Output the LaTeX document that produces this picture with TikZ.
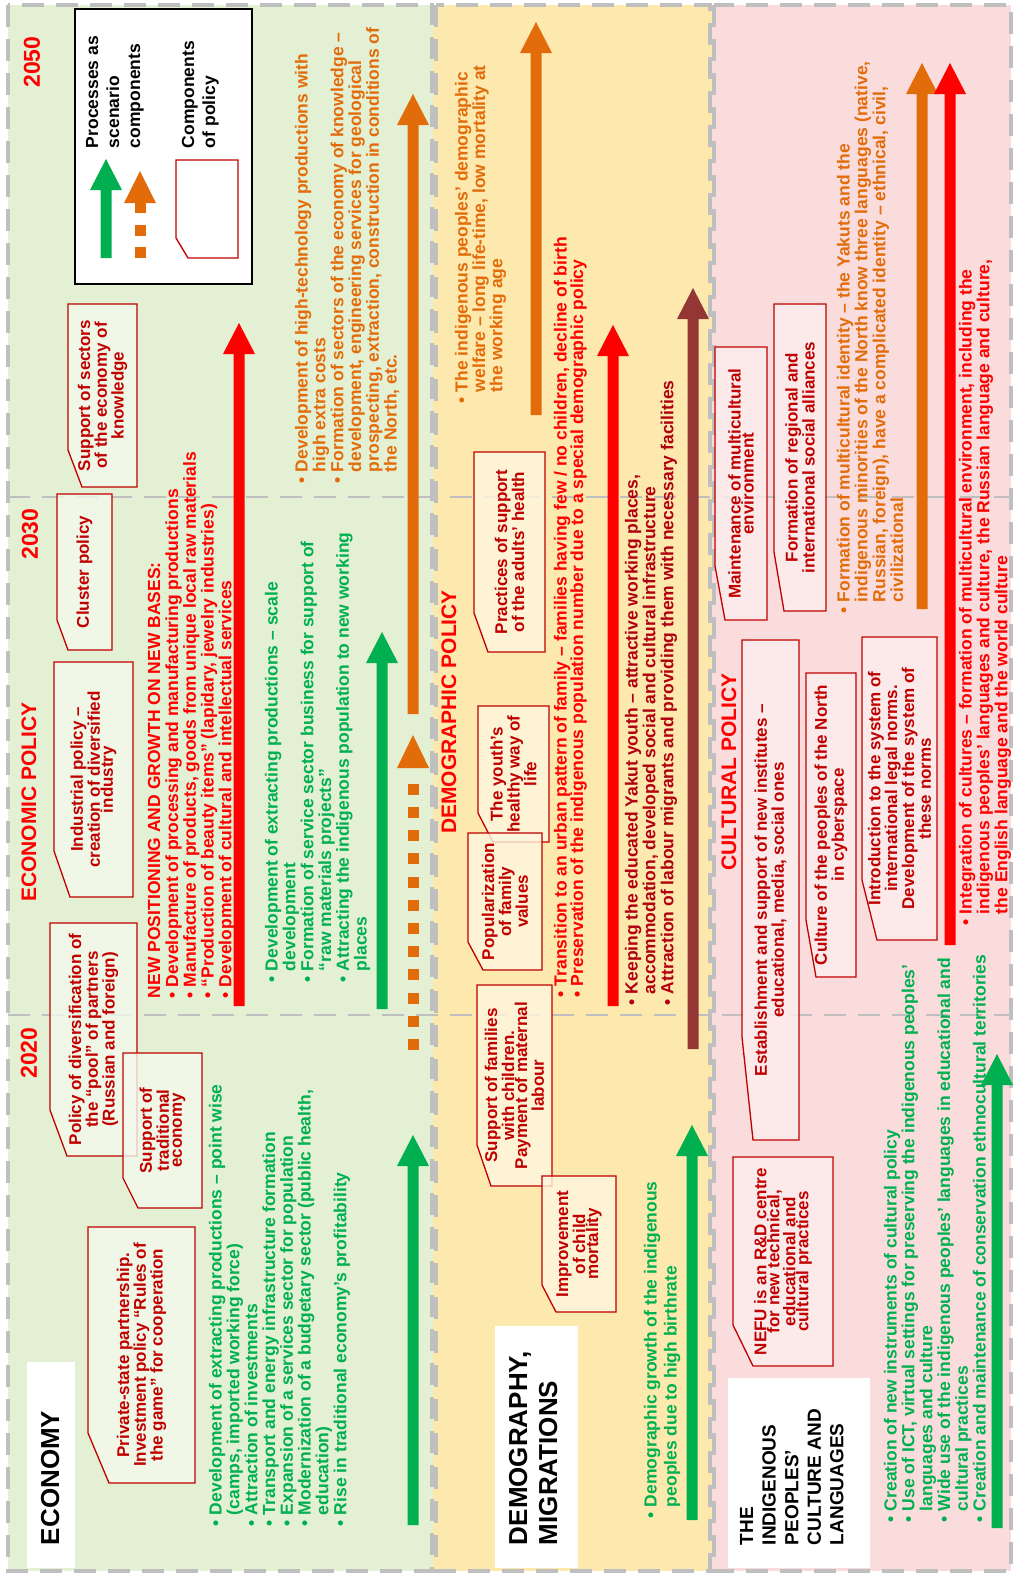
\documentclass[tikz,border=0pt]{standalone}
\usepackage{fontspec}
\setmainfont{Liberation Sans}
\definecolor{cgreen}{HTML}{00B050}
\definecolor{cred}{HTML}{FF0000}
\definecolor{corange}{HTML}{E36C0A}
\definecolor{cdark}{HTML}{C00000}
\definecolor{cmaroon}{HTML}{B00010}
\definecolor{cbrown}{HTML}{943634}
\definecolor{bgecon}{HTML}{E4F0D4}
\definecolor{bgdemo}{HTML}{FDE9AE}
\definecolor{bgcult}{HTML}{FADCDC}
\definecolor{fecon}{HTML}{F3F9EC}
\definecolor{fdemo}{HTML}{FFF6DE}
\definecolor{fcult}{HTML}{FDEEEE}
\definecolor{cgrey}{HTML}{BFBFBF}
\newcommand{\bul}{•\ }
\newcommand{\hi}{\phantom{•\ }}
\newcommand{\procarrow}[4]{\fill[#1] ({#2-5.5},#3) -- ({#2-5.5},{#4+31}) -- ({#2-16},{#4+31}) -- (#2,#4) -- ({#2+16},{#4+31}) -- ({#2+5.5},{#4+31}) -- ({#2+5.5},#3) -- cycle;}
\newcommand{\pbox}[9]{%
  \draw[cdark, line width=1.3pt, fill=#8, fill opacity=0.8] (#2,#3) -- (#4,#3) -- (#4,#5) -- (#7,#5) -- (#2,#6) -- cycle;
  \node[boxtext] (#1) at ({(#2+#4)/2},{(#3+#5)/2}) {#9};}
\tikzset{
  every node/.style={inner sep=0pt, outer sep=0pt},
  rot/.style={rotate=90},
  boxtext/.style={rotate=90, align=center, text=cdark, font=\bfseries\fontsize{17}{13}\selectfont},
  blk/.style={rotate=90, anchor=north west, align=left},
  gridline/.style={cgrey, line width=3.5pt, dash pattern=on 22pt off 12pt},
  hline/.style={cgrey, line width=2.5pt, dash pattern=on 22pt off 12pt},
  bodytext/.style={font=\bfseries\fontsize{17.5}{17.8}\selectfont},
  year/.style={rot, text=cred, font=\bfseries\fontsize{23}{26}\selectfont},
  policyhead/.style={rot, text=cred, font=\bfseries\fontsize{21}{24}\selectfont},
}
\begin{document}
\begin{tikzpicture}[x=1pt,y=-1pt]
\useasboundingbox (0,0) rectangle (1017,1577);
% backgrounds
\fill[bgecon] (8,5) rectangle (433,1571);
\fill[bgdemo] (433,5) rectangle (712,1571);
\fill[bgcult] (712,5) rectangle (1011,1571);
\draw[hline] (8,497) -- (1011,497);
\draw[hline] (8,1015) -- (1011,1015);
\draw[gridline] (8,5) rectangle (432,1571);
\draw[gridline] (436,5) rectangle (710,1571);
\draw[gridline] (714,5) rectangle (1011,1571);

% legend
\draw[black, line width=2pt, fill=white] (75,9) rectangle (252,284);
\procarrow{cgreen}{106}{258}{159}
\fill[corange] (124,203) -- (140,171) -- (156,203) -- cycle;
\fill[corange] (134.5,202) rectangle (145.5,213);
\fill[corange] (134.5,225) rectangle (145.5,236);
\fill[corange] (134.5,247) rectangle (145.5,258);
\draw[cdark, line width=1.3pt] (176,160) -- (238,160) -- (238,258) -- (188,258) -- (176,238) -- cycle;
\node[blk, font=\bfseries\fontsize{17.5}{21}\selectfont] (legA) at (86,148) {Processes as\\scenario\\components};
\node[blk, font=\bfseries\fontsize{17.5}{21}\selectfont] (legB) at (182,148) {Components\\of policy};

% years and headings
\node[year] (y2050) at (32,62) {2050};
\node[year] (y2030) at (30,534) {2030};
\node[year] (y2020) at (29,1053) {2020};
\node[policyhead] (ecpol) at (29,802) {ECONOMIC POLICY};
\node[policyhead] (dempol) at (449,712) {DEMOGRAPHIC POLICY};
\node[policyhead] (culpol) at (729,772) {CULTURAL POLICY};

% section labels
\fill[white] (27,1362) rectangle (75,1568);
\node[blk, font=\bfseries\fontsize{26}{30}\selectfont] (lEcon) at (41,1545) {ECONOMY};
\fill[white] (495,1326) rectangle (578,1568);
\node[blk, font=\bfseries\fontsize{26}{30}\selectfont] (lDemo) at (509,1545) {DEMOGRAPHY,\\MIGRATIONS};
\fill[white] (728,1378) rectangle (870,1568);
\node[blk, font=\bfseries\fontsize{19}{22.6}\selectfont] (lCult) at (740,1545) {THE\\INDIGENOUS\\PEOPLES’\\CULTURE AND\\LANGUAGES};

% arrows
\procarrow{cred}{239}{1006}{323}
\procarrow{cgreen}{382}{1009}{632}
\procarrow{corange}{413}{714}{94}
\foreach \i in {0,...,11} \fill[corange] (407.5,{1050-23.2*\i}) rectangle (418.5,{1039-23.2*\i});
\fill[corange] (397,768) -- (413,735) -- (429,768) -- cycle;
\procarrow{cgreen}{413}{1525}{1135}
\procarrow{cgreen}{692}{1520}{1125}
\procarrow{cbrown}{693}{1049}{288}
\procarrow{cred}{613}{1006}{325}
\procarrow{corange}{536}{415}{22}
\procarrow{cgreen}{997}{1528}{1054}
\procarrow{corange}{922}{609}{63}
\procarrow{cred}{950}{945}{63}

% policy boxes - economy
\pbox{bKnow}{68}{304}{137}{487}{450}{82}{fecon}{Support of sectors\\of the economy of\\knowledge}
\pbox{bClust}{57}{494}{112}{650}{620}{68}{fecon}{Cluster policy}
\pbox{bInd}{54}{662}{133}{897}{851}{70}{fecon}{Industrial policy –\\creation of diversified\\industry}
\pbox{bDiv}{50}{923}{137}{1156}{1110}{67}{fecon}{Policy of diversification of\\the “pool” of partners\\(Russian and foreign)}
\pbox{bTrad}{123}{1053}{202}{1208}{1178}{138}{fecon}{Support of\\traditional\\economy}
\pbox{bPriv}{88}{1227}{195}{1483}{1433}{109}{fecon}{Private-state partnership.\\Investment policy “Rules of\\the game” for cooperation}
% demography
\pbox{bAdult}{474}{452}{545}{652}{613}{488}{fdemo}{Practices of support\\of the adults’ health}
\pbox{bYouth}{478}{706}{549}{842}{813}{493}{fdemo}{The youth’s\\healthy way of\\life}
\pbox{bFam}{468}{833}{542}{970}{942}{483}{fdemo}{Popularization\\of family\\values}
\pbox{bSupFam}{477}{985}{552}{1186}{1145}{491}{fdemo}{Support of families\\with children.\\Payment of  maternal\\labour}
\pbox{bChild}{542}{1176}{616}{1312}{1285}{556}{fdemo}{Improvement\\of child\\mortality}
% culture
\pbox{bNefu}{733}{1157}{833}{1366}{1325}{753}{fcult}{NEFU is an R\&D centre\\for new technical,\\educational and\\cultural practices}
\pbox{bInst}{742}{640}{799}{1140}{1037}{753}{fcult}{Establishment and support of new institutes –\\educational, media, social ones}
\pbox{bCyber}{806}{673}{856}{977}{920}{816}{fcult}{Culture of the peoples of the North\\in cyberspace}
\pbox{bLegal}{862}{637}{937}{940}{880}{877}{fcult}{Introduction to the system of\\international legal norms.\\Development of the system of\\these norms}
\pbox{bMulti}{715}{347}{767}{620}{566}{725}{fcult}{Maintenance of multicultural\\environment}
\pbox{bAlli}{774}{304}{826}{611}{552}{784}{fcult}{Formation of regional and\\international social alliances}

% text blocks - economy
\node[blk, bodytext, text=corange] (tEcOr) at (295,483) {\bul Development of high-technology  productions with\\\hi high extra costs\\\bul Formation of sectors of the economy of knowledge –\\\hi development, engineering services for geological\\\hi prospecting, extraction, construction in conditions of\\\hi the North, etc.};
\node[blk, bodytext, text=cred] (tEcRed) at (148,998) {NEW POSITIONING AND GROWTH ON NEW BASES:\\\bul Development of processing and manufacturing productions\\\bul Manufacture of products, goods from unique local raw materials\\\bul “Production of beauty items” (lapidary, jewelry industries)\\\bul Development of cultural and intellectual services};
\node[blk, bodytext, text=cgreen] (tEcGr2) at (265,982) {\bul Development of extracting productions – scale\\\hi development\\\bul Formation of service sector business for support of\\\hi “raw materials projects”\\\bul Attracting the indigenous population to new working\\\hi places};
\node[blk, bodytext, text=cgreen] (tEcGr1) at (209,1526) {\bul Development of extracting productions – point wise\\\hi (camps, imported working force)\\\bul Attraction of investments\\\bul Transport and energy infrastructure formation\\\bul Expansion of a services sector for population\\\bul Modernization of a budgetary sector (public health,\\\hi education)\\\bul Rise in traditional economy’s profitability};
% demography
\node[blk, text=corange, font=\bfseries\fontsize{17.5}{16.2}\selectfont] (tDeOr) at (455,403) {\bul The indigenous peoples’ demographic\\\hi welfare  – long life-time, low mortality at\\\hi the working age};
\node[blk, text=cred, font=\bfseries\fontsize{17.5}{16.5}\selectfont] (tDeRed) at (554,997) {\bul Transition to an urban pattern of family  – families having few / no children, decline of birth\\\bul Preservation of the indigenous population number due to a special demographic policy};
\node[blk, bodytext, text=cmaroon] (tDeMar) at (625,1005) {\bul Keeping the educated Yakut youth – attractive working places,\\\hi accommodation, developed social and cultural infrastructure\\\bul Attraction of labour migrants and providing them with necessary facilities};
\node[blk, text=cgreen, font=\bfseries\fontsize{17.5}{20}\selectfont] (tDeGr) at (644,1518) {\bul Demographic growth of the indigenous\\\hi peoples due to high birthrate};
% culture
\node[blk, bodytext, text=corange] (tCuOr) at (837,613) {\bul Formation of multicultural identity – the Yakuts and the\\\hi indigenous minorities of the North know three languages (native,\\\hi Russian, foreign), have a complicated identity – ethnical, civil,\\\hi civilizational};
\node[blk, bodytext, text=cred] (tCuRed) at (959,925) {\bul Integration of cultures – formation of multicultural environment, including the\\\hi indigenous peoples’ languages and culture,  the Russian language and culture,\\\hi the English language and the world culture};
\node[blk, bodytext, text=cgreen] (tCuGr) at (884,1522) {\bul Creation of new instruments of cultural policy\\\bul Use of ICT, virtual settings for preserving the indigenous peoples’\\\hi languages and culture\\\bul Wide use of the indigenous peoples’ languages in educational and\\\hi cultural practices\\\bul Creation and maintenance of conservation ethnocultural territories};
\end{tikzpicture}
\end{document}
